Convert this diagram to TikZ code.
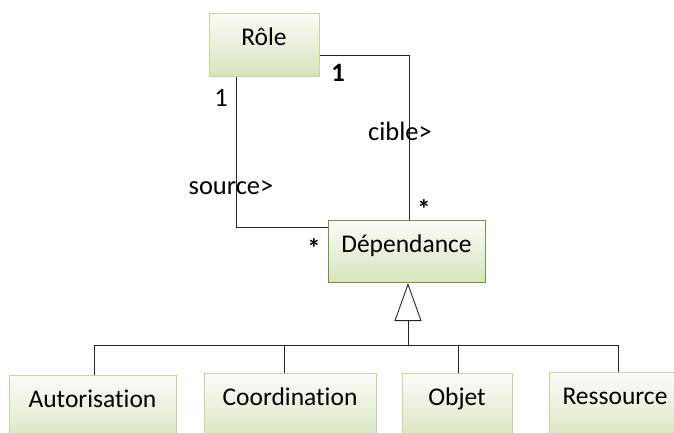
\documentclass[tikz,border=0pt]{standalone}
\usepackage{fontspec}
\setmainfont{Carlito}[Ligatures=NoCommon]
\usetikzlibrary{arrows.meta,calc}
\definecolor{gtop}{HTML}{FBFCF8}
\definecolor{gbot}{HTML}{D7E4BD}
\definecolor{lborder}{HTML}{C3D69B}
\definecolor{dborder}{HTML}{76923C}
\tikzset{
  cls/.style={rectangle, draw=lborder, line width=1pt, top color=gtop, bottom color=gbot,
    anchor=north, inner xsep=0pt, inner ysep=0pt, text height=32pt,
    font=\fontsize{25.5}{28}\selectfont},
  lbl/.style={font=\fontsize{26.5}{29}\selectfont, inner sep=0pt},
  conn/.style={line width=0.9pt, draw=black!85},
}
\begin{document}
\begin{tikzpicture}[x=1pt,y=-1pt]
\useasboundingbox (0,0) rectangle (674,432);
\node[cls, minimum width=110pt, text depth=31pt] (role) at (264,13) {Rôle};
\node[cls, draw=dborder, minimum width=157pt, text depth=30pt] (dep) at (406.5,220) {Dépendance};
\node[cls, minimum width=167pt, text depth=38pt] (auto) at (92.5,375) {Autorisation};
\node[cls, minimum width=172pt, text depth=38pt] (coord) at (290,373) {Coordination};
\node[cls, minimum width=110pt, text depth=38pt] (obj) at (457,373) {Objet};
\node[cls, minimum width=132pt, text depth=40pt] (res) at (615,372) {Ressource};
% associations
\draw[conn] ([yshift=-10.5pt]role.east) -| ([xshift=2.5pt]dep.north);
\draw[conn] ([xshift=-28pt]role.south) |- ([yshift=24pt]dep.west);
% labels
\node[lbl] (m1) at (221,98) {1};
\node[lbl, font=\fontsize{26.5}{29}\selectfont\bfseries] (m2) at (338,73) {1};
\node[lbl] (src) at (231,188) {source>};
\node[lbl] (cib) at (400,131) {cible>};
\node[lbl, font=\fontsize{26.5}{29}\selectfont\bfseries] (s1) at (424,209) {*};
\node[lbl, font=\fontsize{26.5}{29}\selectfont\bfseries] (s2) at (314,248) {*};
% generalisation
\coordinate (gen) at (408,345);
\draw[conn, -{Triangle[open, length=38pt, width=27pt, line width=0.9pt]}] (gen) -- (gen |- dep.south);
\draw[conn] ([xshift=1.5pt]auto.north) |- ([xshift=3pt]res.north |- gen) -- ([xshift=3pt]res.north);
\draw[conn] ([xshift=-6pt]coord.north) -- ([xshift=-6pt]coord.north |- gen);
\draw[conn] ([xshift=1pt]obj.north) -- ([xshift=1pt]obj.north |- gen);
\end{tikzpicture}
\end{document}
